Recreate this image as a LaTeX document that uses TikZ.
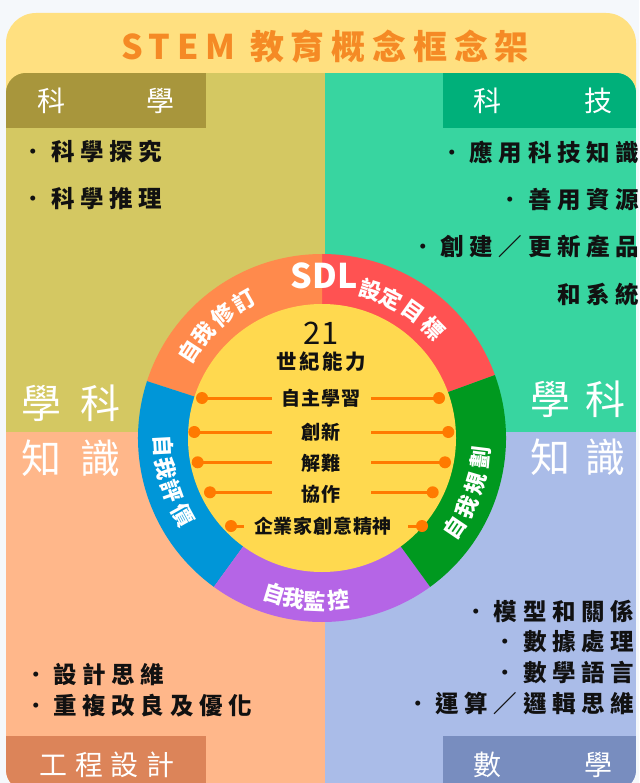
\documentclass[tikz,border=0pt]{standalone}
\usepackage{fontspec}
\newfontfamily\cjk{Noto Sans CJK TC}
\usetikzlibrary{calc}
\definecolor{bgc}{HTML}{F5F8FB}
\definecolor{headc}{HTML}{FFE080}
\definecolor{titlec}{HTML}{F58A25}
\definecolor{sciq}{HTML}{D4C862}
\definecolor{scit}{HTML}{A8963C}
\definecolor{tecq}{HTML}{38D5A0}
\definecolor{tect}{HTML}{00B07A}
\definecolor{engq}{HTML}{FFB78A}
\definecolor{engt}{HTML}{DC8459}
\definecolor{matq}{HTML}{AABCE8}
\definecolor{matt}{HTML}{788DBF}
\definecolor{ringr}{HTML}{FF5252}
\definecolor{ringo}{HTML}{FF8A4C}
\definecolor{ringb}{HTML}{0096D8}
\definecolor{ringp}{HTML}{B565E6}
\definecolor{ringg}{HTML}{00991F}
\definecolor{innerc}{HTML}{FFD94F}
\definecolor{linec}{HTML}{FF7A00}
\definecolor{inkc}{HTML}{111111}
\newcommand{\bdot}{{\mdseries ·}\kern6pt}
\begin{document}
\begin{tikzpicture}[x=1pt,y=1pt,
  txt/.style={inner sep=0pt, outer sep=0pt, text=inkc},
  bullet/.style={txt, font=\cjk\bfseries\fontsize{23.5}{24}\selectfont\addfontfeatures{LetterSpace=24}},
  tablbl/.style={txt, text=white, font=\cjk\fontsize{28}{28}\selectfont},
  biglbl/.style={txt, text=white, font=\cjk\fontsize{40}{40}\selectfont},
  ringtxt/.style={txt, text=white, font=\cjk\bfseries\fontsize{22}{22}\selectfont},
  innertxt/.style={txt, font=\cjk\bfseries\fontsize{19}{20}\selectfont\addfontfeatures{LetterSpace=4}},
  connline/.style={draw=linec, line width=3pt},
  conndot/.style={fill=linec}
]
\useasboundingbox (0,0) rectangle (639,-783);
\clip (0,0) rectangle (639,-783);
\fill[bgc] (0,0) rectangle (639,-783);
% header band
\fill[headc, rounded corners=30pt] (6,-13) rectangle (636,-140);
\node[txt, text=titlec, font=\cjk\bfseries\fontsize{34}{34}\selectfont\addfontfeatures{LetterSpace=20}] (title) at (325,-47) {STEM 教育概念框念架};
% quadrants
\begin{scope}
\clip[rounded corners=20pt] (6,-73) rectangle (636,-790);
\fill[sciq] (6,-73) rectangle (325,-431.5);
\fill[tecq] (325,-73) rectangle (636,-431.5);
\fill[engq] (6,-431.5) rectangle (325,-790);
\fill[matq] (325,-431.5) rectangle (636,-790);
\fill[scit] (6,-73) rectangle (206,-128);
\fill[tect] (443,-73) rectangle (636,-128);
\fill[engt] (6,-736) rectangle (206,-790);
\fill[matt] (443,-736) rectangle (636,-790);
\end{scope}
% tab labels
\node[tablbl] (tsci) at (106,-101) {科\hspace{82pt}學};
\node[tablbl] (ttec) at (542.5,-101) {科\hspace{83pt}技};
\node[tablbl, font=\cjk\fontsize{28}{28}\selectfont\addfontfeatures{LetterSpace=28}] (teng) at (107,-765) {工程設計};
\node[tablbl] (tmat) at (542.5,-765) {數\hspace{83pt}學};
% bullets
\node[bullet, anchor=west] (s1) at (21.5,-152) {\bdot 科學探究};
\node[bullet, anchor=west] (s2) at (21.5,-199) {\bdot 科學推理};
\node[bullet, anchor=east] (t1) at (639,-152.5) {\bdot 應用科技知識};
\node[bullet, anchor=east] (t2) at (639,-200) {\bdot 善用資源};
\node[bullet, anchor=east] (t3) at (639,-246.5) {\bdot 創建／更新產品};
\node[bullet, anchor=east] (t4) at (639,-295) {和系統};
\node[bullet, anchor=west] (e1) at (24,-675) {\bdot 設計思維};
\node[bullet, anchor=west] (e2) at (24,-706) {\bdot 重複改良及優化};
\node[bullet, anchor=east] (m1) at (634,-611) {\bdot 模型和關係};
\node[bullet, anchor=east] (m2) at (634,-642) {\bdot 數據處理};
\node[bullet, anchor=east] (m3) at (634,-673) {\bdot 數學語言};
\node[bullet, anchor=east] (m4) at (634,-703) {\bdot 運算／邏輯思維};
% big labels
\node[biglbl, font=\cjk\fontsize{40}{40}\selectfont\addfontfeatures{LetterSpace=48}] (bl1) at (71,-403) {學科};
\node[biglbl, font=\cjk\fontsize{40}{40}\selectfont\addfontfeatures{LetterSpace=48}] (bl2) at (71,-458) {知識};
\node[biglbl, font=\cjk\fontsize{40}{40}\selectfont\addfontfeatures{LetterSpace=38}] (br1) at (578,-399.5) {學科};
\node[biglbl, font=\cjk\fontsize{40}{40}\selectfont\addfontfeatures{LetterSpace=38}] (br2) at (578,-457) {知識};
% ring
\coordinate (C) at (322,-438);
\fill[ringr] (C) -- ++(20:184) arc[start angle=20, end angle=90, radius=184] -- cycle;
\fill[ringo] (C) -- ++(90:184) arc[start angle=90, end angle=162, radius=184] -- cycle;
\fill[ringb] (C) -- ++(162:184) arc[start angle=162, end angle=234, radius=184] -- cycle;
\fill[ringp] (C) -- ++(234:184) arc[start angle=234, end angle=306, radius=184] -- cycle;
\fill[ringg] (C) -- ++(306:184) arc[start angle=306, end angle=380, radius=184] -- cycle;
\fill[innerc] (C) circle[radius=134];
% ring labels
\node[ringtxt, font=\cjk\bfseries\fontsize{34}{34}\selectfont] (sdl) at (324,-276) {SDL};
\foreach \ch/\ang [count=\i] in {設/72,定/63.5,目/54.5,標/44.5}
  \node[ringtxt, rotate=\ang-90] (sg\i) at ($(C)+(\ang:156)$) {\ch};
\foreach \ch/\ang [count=\i] in {自/147,我/138.5,修/129,訂/119.5}
  \node[ringtxt, rotate=\ang-90] (sr\i) at ($(C)+(\ang:158)$) {\ch};
\foreach \ch/\ang [count=\i] in {自/183,我/191,評/199.5,價/209}
  \node[ringtxt, rotate=\ang+90] (se\i) at ($(C)+(\ang:159)$) {\ch};
\foreach \ch/\ang [count=\i] in {自/253,我/260,監/267.5,控/276}
  \node[ringtxt, rotate=\ang+90] (sm\i) at ($(C)+(\ang:163)$) {\ch};
\foreach \ch/\ang [count=\i] in {自/-34,我/-25.5,規/-16.5,劃/-7}
  \node[ringtxt, rotate=\ang+90] (sp\i) at ($(C)+(\ang:160)$) {\ch};
% inner texts
\node[txt, font=\cjk\fontsize{31}{31}\selectfont] (n21) at (321,-333) {21};
\node[txt, font=\cjk\bfseries\fontsize{20.5}{21}\selectfont\addfontfeatures{LetterSpace=13}] (cap) at (321,-362) {世紀能力};
\node[innertxt] (i1) at (321,-398.5) {自主學習};
\node[innertxt] (i2) at (321,-432) {創新};
\node[innertxt] (i3) at (321,-463) {解難};
\node[innertxt] (i4) at (321,-494) {協作};
\node[innertxt] (i5) at (323,-526) {企業家創意精神};
% connectors
\foreach \yy/\lx/\le/\rs/\rx [count=\i] in {398/202/272/371/439, 432/194.3/272/371/448.3, 462.3/197.7/272/371/445, 492.3/210/272/371/432.7, 526/231/244/408/422}{
  \coordinate (la\i) at (\lx,-\yy);
  \coordinate (lb\i) at (\le,-\yy);
  \coordinate (ra\i) at (\rs,-\yy);
  \coordinate (rb\i) at (\rx,-\yy);
  \draw[connline] (la\i) -- (lb\i);
  \draw[connline] (ra\i) -- (rb\i);
  \fill[conndot] (la\i) circle[radius=6];
  \fill[conndot] (rb\i) circle[radius=6];
}
\end{tikzpicture}
\end{document}
